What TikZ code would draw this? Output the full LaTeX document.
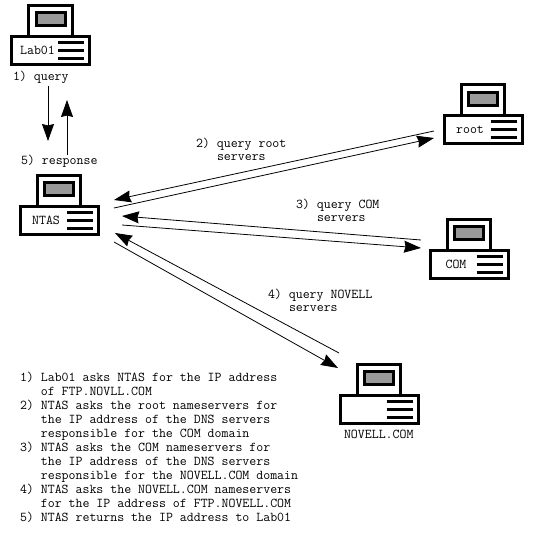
\documentclass[tikz,border=0pt]{standalone}
\usepackage{xcolor}
\usetikzlibrary{arrows.meta,positioning}
\definecolor{screengray}{HTML}{999999}
\newcommand{\serverbox}[3]{%
\node[basebox] (#1) at (#2) {};
\node[above=0pt of #1,monitorbox] (#1mon) {};
\node[screenbox] (#1scr) at ([yshift=1.5pt]#1mon.center) {};
\node[txt,anchor=center] (#1txt) at ([xshift=26pt]#1.west) {#3};
\foreach \dy in {-8,0,8}
  \draw[line width=3pt] ([xshift=7.5pt,yshift=\dy pt]#1.center) -- ([xshift=33.5pt,yshift=\dy pt]#1.center);
}

\begin{document}
\begin{tikzpicture}[
x=1pt,y=-1pt,
txt/.style={font=\fontsize{13.5}{14}\selectfont\ttfamily,inner sep=0pt,outer sep=0pt,align=left},
basebox/.style={draw,line width=3pt,minimum width=78pt,minimum height=28pt,inner sep=0pt,outer sep=0pt},
monitorbox/.style={draw,fill=white,line width=3pt,minimum width=43.5pt,minimum height=31pt,inner sep=0pt,outer sep=0pt},
screenbox/.style={draw,fill=screengray,line width=3pt,minimum width=29pt,minimum height=13pt,inner sep=0pt,outer sep=0pt},
arr/.style={-{Stealth[length=17pt,width=12pt,inset=1.5pt]},line width=0.8pt}
]
\useasboundingbox (0,0) rectangle (532,537);
\serverbox{lab}{50.5,50.5}{Lab01}
\serverbox{ntas}{59,220.5}{NTAS}
\serverbox{root}{483,130}{root}
\serverbox{com}{469,264}{COM}
\serverbox{novell}{379,409}{}
\node[txt,anchor=west] (novelltxt2) at (344,434) {NOVELL.COM};

\coordinate (labout) at (48,86);
\coordinate (ntasin) at (48,141);
\coordinate (ntasout) at (67,155);
\coordinate (labin) at (67,100);
\coordinate (rootb) at (114,208);
\coordinate (roote) at (434,138);
\coordinate (rootc) at (434,131);
\coordinate (rootd) at (114,200);
\coordinate (comb) at (122,225);
\coordinate (come) at (421,248);
\coordinate (comc) at (421,240);
\coordinate (comd) at (122,216);
\coordinate (novb) at (114,242);
\coordinate (nove) at (338,368);
\coordinate (novc) at (339,353);
\coordinate (novd) at (115,233);

\draw[arr] (labout) -- (ntasin);
\draw[arr] (ntasout) -- (labin);
\draw[arr] (rootb) -- (roote);
\draw[arr] (rootc) -- (rootd);
\draw[arr] (comb) -- (come);
\draw[arr] (comc) -- (comd);
\draw[arr] (novb) -- (nove);
\draw[arr] (novc) -- (novd);

\node[txt,anchor=west] (query) at (13,77) {1) query};
\node[txt,anchor=west] (response) at (21,161) {5) response};
\node[txt,anchor=west] (rootq) at (196,144) {2) query root};
\node[txt,anchor=west] (roots) at (217,158) {servers};
\node[txt,anchor=west] (comq) at (296,205) {3) query COM};
\node[txt,anchor=west] (coms) at (317,219) {servers};
\node[txt,anchor=west] (novq) at (268,295) {4) query NOVELL};
\node[txt,anchor=west] (novs) at (289,309) {servers};
\node[txt,anchor=north west] (steps) at (20,372) {1) Lab01 asks NTAS for the IP address\\
\ \ \ of FTP.NOVLL.COM\\
2) NTAS asks the root nameservers for\\
\ \ \ the IP address of the DNS servers\\
\ \ \ responsible for the COM domain\\
3) NTAS asks the COM nameservers for\\
\ \ \ the IP address of the DNS servers\\
\ \ \ responsible for the NOVELL.COM domain\\
4) NTAS asks the NOVELL.COM nameservers\\
\ \ \ for the IP address of FTP.NOVELL.COM\\
5) NTAS returns the IP address to Lab01};
\end{tikzpicture}
\end{document}
